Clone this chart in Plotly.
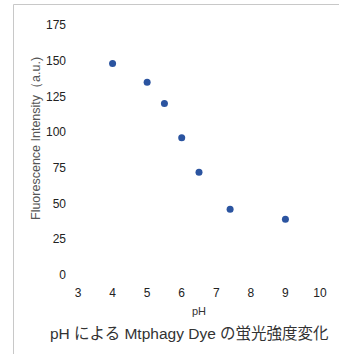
import plotly.graph_objects as go

ph = [4, 5, 5.5, 6, 6.5, 7.4, 9]
intensity = [148, 135, 120, 96, 72, 46, 39]
x_ticks = [3, 4, 5, 6, 7, 8, 9, 10]
y_ticks = [0, 25, 50, 75, 100, 125, 150, 175]

W, H = 339, 354
L, R, T, B = 78, 19, 25, 79
pw, ph_ = W - L - R, H - T - B

def px(x):
    return (x - L) / pw

def py(y):
    return (H - B - y) / ph_

fig = go.Figure(go.Scatter(
    x=ph, y=intensity, mode="markers",
    marker=dict(color="#2b54a0", size=7, line=dict(width=0)),
))

fig.update_layout(
    width=W, height=H,
    margin=dict(l=L, r=R, t=T, b=B),
    paper_bgcolor="white", plot_bgcolor="white",
    showlegend=False,
    font=dict(family="Liberation Sans, Arial, sans-serif"),
    xaxis=dict(range=[3, 10], tickvals=x_ticks, showgrid=False, zeroline=False,
               showline=False, ticks="", ticklabelstandoff=9,
               tickfont=dict(size=12, color="#222")),
    yaxis=dict(range=[0, 175], tickvals=y_ticks, showgrid=False, zeroline=False,
               showline=False, ticks="", ticklabelstandoff=11,
               tickfont=dict(size=12, color="#222")),
    shapes=[dict(type="rect", xref="paper", yref="paper",
                 x0=px(13.5), x1=px(W + 5), y0=py(H + 5), y1=py(4.5),
                 line=dict(color="#c8c8c8", width=1), fillcolor="rgba(0,0,0,0)")],
    annotations=[
        dict(text="pH", xref="paper", yref="paper", x=px(199), y=py(311),
             showarrow=False, font=dict(size=11, color="#333"),
             xanchor="center", yanchor="middle"),
        dict(text="Fluorescence Intensity（a.u.)", xref="paper", yref="paper",
             x=px(36), y=py(139), textangle=-90, showarrow=False,
             font=dict(size=12.5, color="#555"), xanchor="center", yanchor="middle"),
        dict(text="pH による Mtphagy Dye の蛍光強度変化", xref="paper", yref="paper",
             x=px(189), y=py(333), showarrow=False,
             font=dict(size=15.5, color="#333", family="Liberation Sans, Noto Sans CJK JP, sans-serif"),
             xanchor="center", yanchor="middle"),
    ],
)

fig.write_html("out.html", config={"displayModeBar": False},
               post_script="document.body.style.margin='0';document.body.style.overflow='hidden';")
